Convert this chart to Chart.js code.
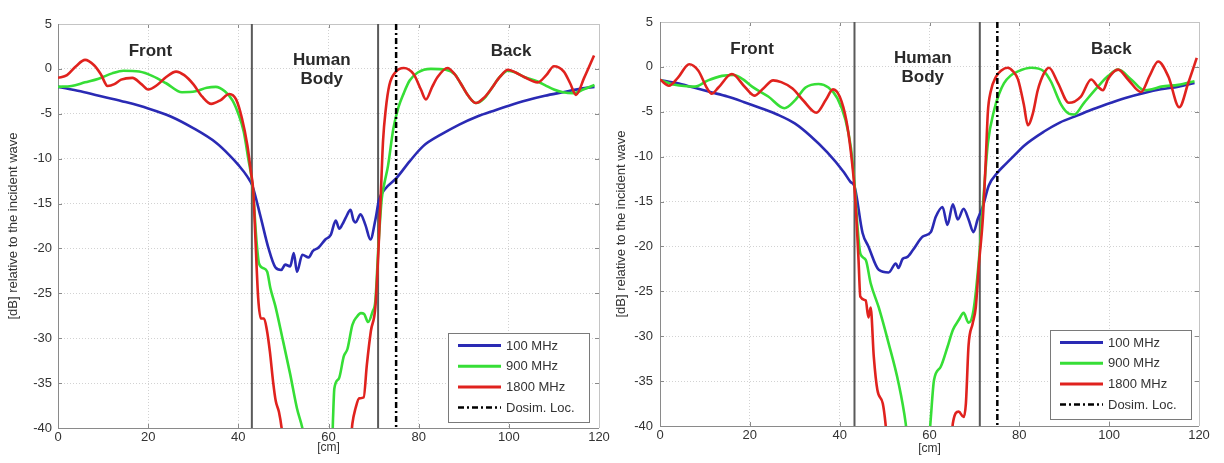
<!DOCTYPE html>
<html><head><meta charset="utf-8">
<script src="https://cdn.jsdelivr.net/npm/chart.js@4.4.0/dist/chart.umd.min.js"></script>
<style>
html,body{margin:0;padding:0;background:#fff;width:1224px;height:463px;overflow:hidden}
.wrap{position:absolute;top:0;height:463px;width:612px}
</style></head><body>
<div class="wrap" style="left:0"><canvas id="c1" width="612" height="463"></canvas></div>
<div class="wrap" style="left:612px"><canvas id="c2" width="612" height="463"></canvas></div>
<script>
// ---------- DATA ----------
const xTicks = [0, 20, 40, 60, 80, 100, 120];
const yTicks = [5, 0, -5, -10, -15, -20, -25, -30, -35, -40];
const legendLabels = ['100 MHz', '900 MHz', '1800 MHz', 'Dosim. Loc.'];
const regionLabels = ['Front', 'Human', 'Body', 'Back'];
const xTitle = '[cm]';
const yTitle = '[dB] relative to the incident wave';

// left panel
const leftBody = [43.0, 71.0];
const leftDosim = 75.0;
const left100 = [[0,-2.0],[5,-2.5],[10,-3.1],[15,-3.7],[20,-4.4],[25,-5.3],[30,-6.6],[35,-8.2],[38,-9.6],[40,-10.7],[42,-12.0],[43.1,-13.0],
 [44.9,-16.4],[46.7,-20.0],[48.2,-22.1],[49.5,-22.4],[50.4,-21.8],[51.5,-22.0],[52.3,-20.5],[53,-22.6],[54.2,-20.7],[55.6,-21.0],[56.5,-20.3],[57.8,-19.9],[59.3,-19.0],[60.5,-18.5],[61.6,-16.9],[62.4,-17.8],[63.1,-17.3],[63.8,-16.6],[64.9,-15.7],[65.5,-16.8],[66,-17.1],[67.1,-16.2],[68.2,-17.4],[69.3,-19.0],[70.4,-16.8],[71.2,-14.6],
 [72.5,-13.4],[75,-12.2],[78,-10.3],[81,-8.6],[85,-7.3],[89,-6.2],[93,-5.3],[97,-4.6],[100,-4.1],[104,-3.5],[108,-3.0],[112,-2.6],[116,-2.2],[119,-2.0]];
const left900 = [[0,-2.0],[3,-1.9],[6,-1.5],[9,-1.1],[12,-0.5],[14.5,-0.2],[18,-0.3],[21,-0.8],[24,-1.6],[27.5,-2.6],[30.5,-2.5],[33,-2.1],[35,-2.0],[37,-2.5],[38.7,-3.5],[40,-5.0],[41.2,-7.0],[42.2,-10],[43.2,-13.2],[44,-19],[44.6,-21.7],[45.5,-22.2],[46.4,-22.6],[47.1,-24.4],[48.2,-26.4],[49.7,-29.8],[51.5,-34.0],[53,-37.8],[54.2,-40],[55,-42],
 [60.8,-42],[61.0,-39],[61.3,-35.6],[62.3,-34.5],[63.4,-32.0],[64.2,-31.2],[65.3,-28.5],[66.3,-27.6],[67.2,-27.2],[67.9,-27.3],[68.8,-28.2],[69.8,-27.0],[70.4,-25.8],[71.1,-19.5],[71.8,-14.5],[72.5,-12.5],[73.2,-10.8],[74.4,-6.6],[75.5,-4.3],[76.7,-2.7],[78,-1.3],[79.8,-0.4],[82.7,0.0],[86,-0.1],[88,-0.6],[89.3,-1.6],[91,-3.0],[92.7,-3.8],[94.5,-3.3],[96,-2.3],[98,-0.9],[99.8,-0.2],[101.5,-0.4],[103.4,-0.9],[106.4,-1.4],[108,-1.8],[110,-2.3],[112,-2.6],[114.4,-2.7],[116.5,-2.3],[119,-1.8]];
const left1800 = [[0,-1.0],[2,-0.7],[4,0.3],[6,1.0],[8,0.4],[9.5,-0.6],[11,-1.9],[12.5,-1.7],[14,-1.2],[16.5,-1.0],[18.5,-1.7],[20,-2.3],[22,-1.8],[24,-0.9],[26.2,-0.3],[28,-0.7],[30,-1.7],[32,-3.1],[34,-3.9],[36,-3.5],[38,-2.8],[39.5,-3.4],[40.8,-5.5],[42,-8.5],[42.8,-11.5],[43.3,-13.5],[43.8,-19],[44.4,-25.5],[45,-27.8],[45.7,-27.8],[46.3,-29.0],[47,-31.5],[47.7,-34.8],[48.3,-37],[49,-38.2],[49.6,-40],[50,-42],
 [64.8,-42],[65.3,-39.5],[66,-37.8],[66.8,-36.7],[67.8,-36.6],[68.5,-33],[69.4,-29.2],[70.4,-26.5],[71.1,-20],[71.6,-14],[72.1,-8],[72.7,-4.5],[73.5,-1.8],[74.8,-0.4],[76.7,0.1],[78.9,-0.6],[80.5,-2.3],[81.6,-3.4],[83,-2.0],[84.2,-0.9],[86.4,0.1],[88,-0.6],[89.3,-1.6],[91,-3.0],[92.7,-3.8],[94.5,-3.2],[96,-2.3],[98,-0.9],[99.8,-0.1],[101.5,-0.4],[103.4,-0.9],[106.4,-1.5],[108.3,-0.7],[110,0.3],[112.2,-0.3],[113.6,-1.6],[114.9,-2.9],[116.7,-1.0],[118.9,1.5]];

// right panel
const rightBody = [43.3, 71.2];
const rightDosim = 75.1;
const right100 = [[0,-1.45],[3.7,-1.8],[7.5,-2.3],[11.2,-2.8],[15,-3.3],[18.6,-3.9],[22.5,-4.6],[26.1,-5.3],[30,-6.3],[33.5,-7.7],[37.2,-9.5],[40.9,-11.7],[42.4,-12.8],[43.3,-13.3],
 [45.1,-18.5],[46.4,-20.0],[48.7,-22.6],[50.9,-22.9],[52.5,-21.9],[53.1,-22.4],[54,-21.4],[55,-21.2],[56.3,-20.4],[58.5,-18.9],[60.3,-18.4],[61.4,-16.7],[62.9,-15.6],[64,-17.6],[65.2,-15.3],[66.3,-17.0],[67.6,-15.8],[68.7,-17.0],[69.8,-18.4],[70.7,-17.0],[71.9,-15.5],[73.2,-13.2],[75.1,-11.8],[77,-10.8],[79,-9.8],[81,-8.8],[85.5,-7.2],[89,-6.2],[93,-5.4],[96.5,-4.7],[100.4,-4.0],[104,-3.4],[107.8,-2.9],[111.5,-2.5],[115.4,-2.2],[119,-1.8]];
const right900 = [[0,-1.45],[3.3,-2.0],[7.8,-2.2],[10.7,-1.5],[13.8,-1.0],[16.5,-0.9],[18.5,-1.4],[20.5,-2.2],[24.1,-3.3],[27.7,-4.6],[30.1,-3.7],[32.4,-2.3],[35.3,-1.9],[37.5,-2.3],[39.5,-3.5],[41.3,-5.9],[42.5,-9.0],[43.3,-13.0],[44,-18.0],[44.6,-20.8],[45.8,-21.5],[46.9,-24.1],[48.7,-26.8],[50.9,-30.8],[53.1,-35.2],[54.7,-39.7],[55.2,-42],
 [59.8,-42],[60.2,-39.7],[61,-34.9],[62.5,-33.4],[64,-31.2],[65.2,-29.3],[66.5,-28.2],[67.6,-27.4],[68.7,-28.5],[69.8,-27.1],[71,-21.5],[72.1,-14],[73,-8.5],[74.4,-4.8],[75.5,-3.0],[76.6,-1.8],[78,-1.0],[79.7,-0.5],[82.6,-0.1],[85.5,-0.5],[87,-1.6],[89.3,-4.2],[91,-5.2],[92.2,-5.3],[94.4,-4.0],[97.5,-2.2],[99.8,-1.0],[102,-0.3],[104.9,-1.4],[107.8,-2.6],[109.5,-2.5],[111.6,-2.2],[115.4,-2.0],[119,-1.6]];
const right1800 = [[0,-1.4],[2,-2.1],[4,-1.2],[6.5,0.3],[8.5,-0.4],[10.5,-2.4],[11.5,-3.0],[13,-2.3],[16,-0.8],[19,-2.3],[21,-3.2],[23,-2.4],[25.2,-1.5],[27,-1.7],[29.5,-2.4],[32,-3.8],[34.8,-5.1],[37,-3.6],[38.5,-2.5],[40,-3.3],[41.5,-6],[42.5,-9.5],[43.3,-13.5],[43.8,-17.5],[44.2,-21.5],[44.6,-25.6],[45.8,-26.0],[46.4,-27.9],[46.9,-26.8],[47.6,-32.3],[48.4,-36.0],[49.6,-37.5],[50.2,-39.7],[50.6,-42],
 [64.8,-42],[65.2,-39.7],[66.5,-38.4],[67.6,-39],[68.1,-37.5],[68.7,-31],[69.6,-28.6],[70.3,-26.8],[71,-22],[71.9,-16.7],[72.5,-10.7],[73,-5],[73.6,-2.8],[74.8,-1.1],[76,-0.4],[77.4,-0.1],[78.6,-0.5],[79.7,-1.4],[81,-4.2],[81.9,-6.5],[83,-5.2],[84.1,-2.6],[85.5,-0.7],[86.6,-0.1],[88.6,-1.8],[91,-4.0],[93.7,-3.3],[96,-1.4],[97.5,-2.2],[98.6,-2.6],[99.8,-1.3],[102,-0.3],[104.2,-1.4],[107.1,-2.8],[109,-1.0],[110.9,0.6],[113.2,-1.1],[115.6,-4.5],[117.6,-1.8],[119.5,1.0]];

// ---------- STYLE ----------
const FONT = "'Liberation Sans', Arial, Helvetica, sans-serif";
const COLORS = ['#2a2ab4', '#36de36', '#e0221e', '#000000'];
const TEXT = '#333333';

const toPts = arr => arr.map(p => ({x: p[0], y: p[1]}));

const framePlugin = {
  id: 'frame',
  beforeDatasetsDraw(chart) {
    const {ctx, chartArea: a, scales} = chart;
    ctx.save();
    ctx.lineWidth = 1;
    ctx.strokeStyle = '#8a8a8a';
    ctx.beginPath();
    xTicks.forEach(v => {
      const px = Math.round(scales.x.getPixelForValue(v)) + 0.5;
      ctx.moveTo(px, a.bottom); ctx.lineTo(px, a.bottom - 4);
      ctx.moveTo(px, a.top); ctx.lineTo(px, a.top + 4);
    });
    yTicks.forEach(v => {
      const py = Math.round(scales.y.getPixelForValue(v)) + 0.5;
      ctx.moveTo(a.left, py); ctx.lineTo(a.left + 4, py);
      ctx.moveTo(a.right, py); ctx.lineTo(a.right - 4, py);
    });
    ctx.stroke();
    ctx.strokeStyle = '#c4c4c4';
    ctx.beginPath();
    ctx.moveTo(a.left, Math.round(a.top) + 0.5); ctx.lineTo(a.right, Math.round(a.top) + 0.5);
    ctx.moveTo(Math.round(a.right) + 0.5, a.top); ctx.lineTo(Math.round(a.right) + 0.5, a.bottom);
    ctx.stroke();
    ctx.strokeStyle = '#8a8a8a';
    ctx.beginPath();
    ctx.moveTo(Math.round(a.left) + 0.5, a.top); ctx.lineTo(Math.round(a.left) + 0.5, a.bottom);
    ctx.moveTo(a.left, Math.round(a.bottom) + 0.5); ctx.lineTo(a.right, Math.round(a.bottom) + 0.5);
    ctx.stroke();
    ctx.restore();
  }
};

const textPlugin = {
  id: 'regions',
  afterDatasetsDraw(chart, args, opts) {
    const {ctx, scales} = chart;
    ctx.save();
    ctx.fillStyle = '#2a2a2a';
    ctx.font = 'bold 17px ' + FONT;
    ctx.textAlign = 'center';
    ctx.textBaseline = 'middle';
    opts.items.forEach(it => {
      ctx.fillText(it.text, scales.x.getPixelForValue(it.x), scales.y.getPixelForValue(it.y));
    });
    ctx.restore();
  }
};

const legendPlugin = {
  id: 'boxLegend',
  afterDraw(chart, args, opts) {
    const {ctx, chartArea: a} = chart;
    const w = 141, h = 89;
    const x = Math.round(a.right - opts.right - w), y = Math.round(a.bottom - opts.bottom - h);
    ctx.save();
    ctx.fillStyle = '#ffffff';
    ctx.fillRect(x, y, w, h);
    ctx.strokeStyle = '#7a7a7a';
    ctx.lineWidth = 1;
    ctx.strokeRect(x + 0.5, y + 0.5, w, h);
    legendLabels.forEach((lab, i) => {
      const ly = y + 12.5 + i * 20.7;
      ctx.strokeStyle = COLORS[i];
      ctx.lineWidth = i === 3 ? 2.5 : 3;
      ctx.setLineDash(i === 3 ? [6, 3, 2, 3] : []);
      ctx.beginPath(); ctx.moveTo(x + 10, ly); ctx.lineTo(x + 53, ly); ctx.stroke();
      ctx.setLineDash([]);
      ctx.fillStyle = TEXT;
      ctx.font = '13px ' + FONT;
      ctx.textAlign = 'left';
      ctx.textBaseline = 'middle';
      ctx.fillText(lab, x + 58, ly + 0.5);
    });
    ctx.restore();
  }
};

function makeChart(id, s100, s900, s1800, body, dosim, L) {
  const curve = (data, color, order) => ({
    data: toPts(data), borderColor: color, borderWidth: 2.6, pointRadius: 0,
    cubicInterpolationMode: 'monotone', fill: false, order: order, clip: 0
  });
  const vline = (xv, color, width, dash, order) => ({
    data: [{x: xv, y: 5}, {x: xv, y: -40}], borderColor: color, borderWidth: width,
    borderDash: dash, pointRadius: 0, fill: false, order: order, clip: 0
  });
  const datasets = [
    vline(dosim, '#000000', 2.5, [6, 3, 2, 3], 0),
    curve(s1800, COLORS[2], 1),
    curve(s900, COLORS[1], 2),
    curve(s100, COLORS[0], 3),
    vline(body[0], '#5a5a5a', 2, [], 4),
    vline(body[1], '#5a5a5a', 2, [], 4)
  ];
  return new Chart(document.getElementById(id), {
    type: 'line',
    data: {datasets},
    options: {
      responsive: false, animation: false, devicePixelRatio: 1,
      layout: {padding: {left: 0, right: L.padRight, top: L.padTop, bottom: 0}},
      plugins: {
        legend: {display: false}, tooltip: {enabled: false},
        regions: {items: [
          {text: regionLabels[0], x: 20.5, y: 2.0},
          {text: regionLabels[1], x: 58.5, y: 0.9},
          {text: regionLabels[2], x: 58.5, y: -1.2},
          {text: regionLabels[3], x: 100.5, y: 2.0}
        ]},
        boxLegend: {right: L.legRight, bottom: L.legBottom}
      },
      scales: {
        x: {
          type: 'linear', min: 0, max: 120,
          afterFit: s => { s.height = L.xAxisH; },
          afterBuildTicks: s => { s.ticks = xTicks.map(v => ({value: v})); },
          ticks: {color: TEXT, font: {family: FONT, size: 13}, padding: 2, maxRotation: 0, autoSkip: false},
          grid: {color: '#d2d2d2', lineWidth: 1, drawTicks: false},
          border: {display: false, dash: [1, 2]},
          title: {display: true, text: xTitle, color: TEXT, font: {family: FONT, size: 12}, padding: {top: 0, bottom: L.xTitlePad}}
        },
        y: {
          type: 'linear', min: -40, max: 5,
          afterFit: s => { s.width = L.yAxisW; },
          afterBuildTicks: s => { s.ticks = yTicks.slice().reverse().map(v => ({value: v})); },
          ticks: {color: TEXT, font: {family: FONT, size: 13}, padding: L.yTickPad, autoSkip: false},
          grid: {color: '#d2d2d2', lineWidth: 1, drawTicks: false},
          border: {display: false, dash: [1, 2]},
          title: {display: true, text: yTitle, color: TEXT, font: {family: FONT, size: 13}, padding: {top: L.yTitlePad, bottom: 0}}
        }
      }
    },
    plugins: [framePlugin, textPlugin, legendPlugin]
  });
}

makeChart('c1', left100, left900, left1800, leftBody, leftDosim,
  {padRight: 13, padTop: 24, xAxisH: 35, yAxisW: 58, xTitlePad: 8, yTitlePad: 6, yTickPad: 6, legRight: 10, legBottom: 6});
makeChart('c2', right100, right900, right1800, rightBody, rightDosim,
  {padRight: 25, padTop: 22, xAxisH: 37, yAxisW: 48, xTitlePad: 7, yTitlePad: 2, yTickPad: 7, legRight: 8, legBottom: 7});
</script>
</body></html>
